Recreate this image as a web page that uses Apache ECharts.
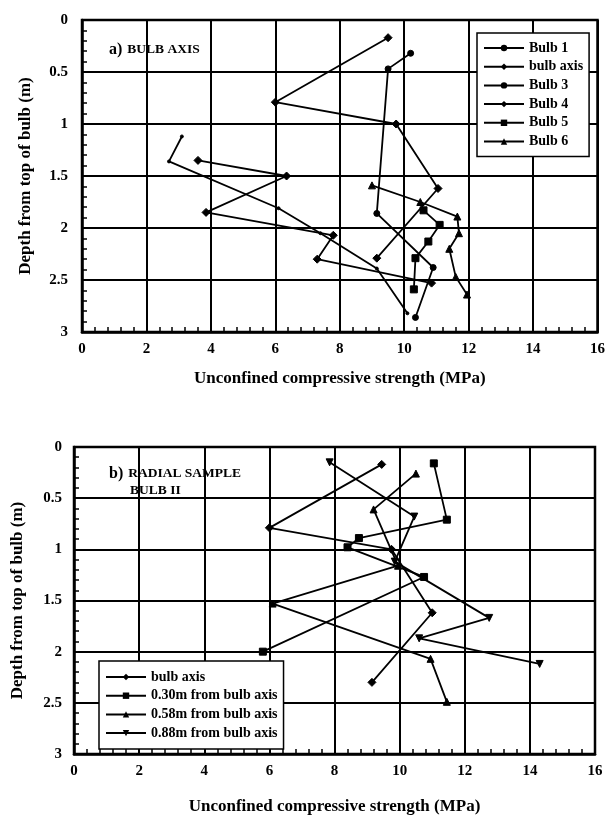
<!DOCTYPE html>
<html>
<head>
<meta charset="utf-8">
<script src="https://cdn.jsdelivr.net/npm/echarts@6/dist/echarts.min.js"></script>
<style>
html,body{margin:0;padding:0;background:#fff;}
#c{width:608px;height:816px;}
</style>
</head>
<body>
<div id="c"></div>
<script>
// ---------- Panel a) BULB AXIS ----------
var xTicks = [0, 2, 4, 6, 8, 10, 12, 14, 16];
var yTicks = [0, 0.5, 1, 1.5, 2, 2.5, 3];

var aBulb1Strength = [3.1, 2.7, 6.1, 7.4, 9.15, 10.1];
var aBulb1Depth    = [1.12, 1.36, 1.81, 2.05, 2.39, 2.82];

var aAxisStrength  = [9.5, 6.0, 9.75, 11.05, 9.15];
var aAxisDepth     = [0.17, 0.79, 1.0, 1.62, 2.29];

var aBulb3Strength = [10.2, 9.5, 9.15, 10.9, 10.35];
var aBulb3Depth    = [0.32, 0.47, 1.86, 2.38, 2.86];

var aBulb4Strength = [3.6, 6.35, 3.85, 7.8, 7.3, 10.85];
var aBulb4Depth    = [1.35, 1.5, 1.85, 2.07, 2.30, 2.53];

var aBulb5Strength = [10.6, 11.1, 10.75, 10.35, 10.3];
var aBulb5Depth    = [1.83, 1.97, 2.13, 2.29, 2.59];

var aBulb6Strength = [9.0, 10.5, 11.65, 11.7, 11.4, 11.6, 11.95];
var aBulb6Depth    = [1.59, 1.75, 1.89, 2.05, 2.2, 2.47, 2.64];

// ---------- Panel b) RADIAL SAMPLE BULB II ----------
var bAxisStrength  = [9.45, 6.0, 9.75, 11.0, 9.15];
var bAxisDepth     = [0.17, 0.79, 1.0, 1.62, 2.3];

var b030Strength   = [11.05, 11.45, 8.75, 8.4, 10.75, 5.8];
var b030Depth      = [0.16, 0.71, 0.89, 0.98, 1.27, 2.0];

var b058Strength   = [10.5, 9.2, 9.95, 6.1, 10.95, 11.45];
var b058Depth      = [0.26, 0.61, 1.16, 1.53, 2.07, 2.49];

var b088Strength   = [7.85, 10.45, 9.85, 12.75, 10.6, 14.3];
var b088Depth      = [0.15, 0.68, 1.12, 1.67, 1.87, 2.12];

var xName = 'Unconfined compressive strength (MPa)';
var yName = 'Depth from top of bulb (m)';

function pairs(xs, ys) { return xs.map(function (v, i) { return [v, ys[i]]; }); }

var FONT = '"Liberation Serif", "DejaVu Serif", serif';

function mkX(gi, nameGap) {
  return {
    gridIndex: gi, type: 'value', min: xTicks[0], max: xTicks[xTicks.length - 1], interval: 2,
    position: 'bottom',
    name: xName, nameLocation: 'middle', nameGap: nameGap,
    nameTextStyle: { fontFamily: FONT, fontWeight: 'bold', fontSize: 17, color: '#000' },
    axisLine: { show: true, onZero: false, lineStyle: { color: '#000', width: 2.5 } },
    axisTick: { show: true, inside: true, length: 5, lineStyle: { color: '#000', width: 1.5 } },
    minorTick: { show: true, splitNumber: 5, length: 5, lineStyle: { color: '#000', width: 1.5 } },
    axisLabel: { fontFamily: FONT, fontWeight: 'bold', fontSize: 15, color: '#000', margin: 10 },
    splitLine: { show: true, lineStyle: { color: '#000', width: 2 } }
  };
}
function mkY(gi, nameGap, margin) {
  return {
    gridIndex: gi, type: 'value', min: yTicks[0], max: yTicks[yTicks.length - 1], interval: 0.5,
    inverse: true, position: 'left',
    name: yName, nameLocation: 'middle', nameGap: nameGap, nameRotate: 90,
    nameTextStyle: { fontFamily: FONT, fontWeight: 'bold', fontSize: 17, color: '#000' },
    axisLine: { show: true, onZero: false, lineStyle: { color: '#000', width: 2.5 } },
    axisTick: { show: true, inside: true, length: 5, lineStyle: { color: '#000', width: 1.5 } },
    minorTick: { show: true, splitNumber: 5, length: 5, lineStyle: { color: '#000', width: 1.5 } },
    axisLabel: { fontFamily: FONT, fontWeight: 'bold', fontSize: 15, color: '#000', margin: margin },
    splitLine: { show: true, lineStyle: { color: '#000', width: 2 } }
  };
}
function mkS(name, gi, xs, ys, symbol, size, rot) {
  return {
    name: name, type: 'line', xAxisIndex: gi, yAxisIndex: gi,
    data: pairs(xs, ys),
    symbol: symbol, symbolSize: size, symbolRotate: rot || 0, showSymbol: true,
    lineStyle: { color: '#000', width: 1.8 },
    itemStyle: { color: '#000', borderColor: '#000' },
    animation: false, z: 5
  };
}
function mkLegend(names, left, top, padding) {
  return {
    data: names, orient: 'vertical', left: left, top: top,
    backgroundColor: '#fff', borderColor: '#000', borderWidth: 1.5, borderRadius: 0,
    padding: padding, itemWidth: 40, itemHeight: 8, itemGap: 4.7,
    textStyle: { fontFamily: FONT, fontWeight: 'bold', fontSize: 14, color: '#000', lineHeight: 14 },
    inactiveColor: '#000', selectedMode: false
  };
}

var chart = echarts.init(document.getElementById('c'), null, { renderer: 'canvas' });
chart.setOption({
  backgroundColor: '#fff',
  animation: false,
  title: [
    { text: '{a|a)} {b|BULB AXIS}', left: 104, top: 36,
      textStyle: { rich: {
        a: { fontFamily: FONT, fontWeight: 'bold', fontSize: 16, color: '#000' },
        b: { fontFamily: FONT, fontWeight: 'bold', fontSize: 13.5, color: '#000' } } } },
    { text: '{a|b)} {b|RADIAL SAMPLE}\n{c|BULB II}', left: 104, top: 460,
      textStyle: { rich: {
        a: { fontFamily: FONT, fontWeight: 'bold', fontSize: 16, color: '#000', lineHeight: 16 },
        b: { fontFamily: FONT, fontWeight: 'bold', fontSize: 13.5, color: '#000', lineHeight: 16 },
        c: { fontFamily: FONT, fontWeight: 'bold', fontSize: 13.5, color: '#000', lineHeight: 16, padding: [0, 0, 0, 21] } } } }
  ],
  grid: [
    { left: 82, top: 20, width: 516, height: 312, show: true, borderColor: '#000', borderWidth: 2.5, backgroundColor: 'transparent' },
    { left: 74, top: 447, width: 521, height: 308, show: true, borderColor: '#000', borderWidth: 2.5, backgroundColor: 'transparent' }
  ],
  xAxis: [mkX(0, 38), mkX(1, 44)],
  yAxis: [mkY(0, 48, 14), mkY(1, 48, 12)],
  legend: [
    mkLegend(['Bulb 1', 'bulb axis', 'Bulb 3', 'Bulb 4', 'Bulb 5', 'Bulb 6'], 477, 33, [8, 6, 8, 6]),
    mkLegend(['bulb axis ', '0.30m from bulb axis', '0.58m from bulb axis', '0.88m from bulb axis'], 99, 661, [9, 6, 9, 6])
  ],
  series: [
    mkS('Bulb 1', 0, aBulb1Strength, aBulb1Depth, 'circle', 3),
    mkS('bulb axis', 0, aAxisStrength, aAxisDepth, 'diamond', 8),
    mkS('Bulb 3', 0, aBulb3Strength, aBulb3Depth, 'circle', 6),
    mkS('Bulb 4', 0, aBulb4Strength, aBulb4Depth, 'diamond', 8),
    mkS('Bulb 5', 0, aBulb5Strength, aBulb5Depth, 'rect', 7),
    mkS('Bulb 6', 0, aBulb6Strength, aBulb6Depth, 'triangle', 7),
    mkS('bulb axis ', 1, bAxisStrength, bAxisDepth, 'diamond', 8),
    mkS('0.30m from bulb axis', 1, b030Strength, b030Depth, 'rect', 7),
    mkS('0.58m from bulb axis', 1, b058Strength, b058Depth, 'triangle', 7),
    mkS('0.88m from bulb axis', 1, b088Strength, b088Depth, 'triangle', 7, 180)
  ]
});
</script>
</body>
</html>
